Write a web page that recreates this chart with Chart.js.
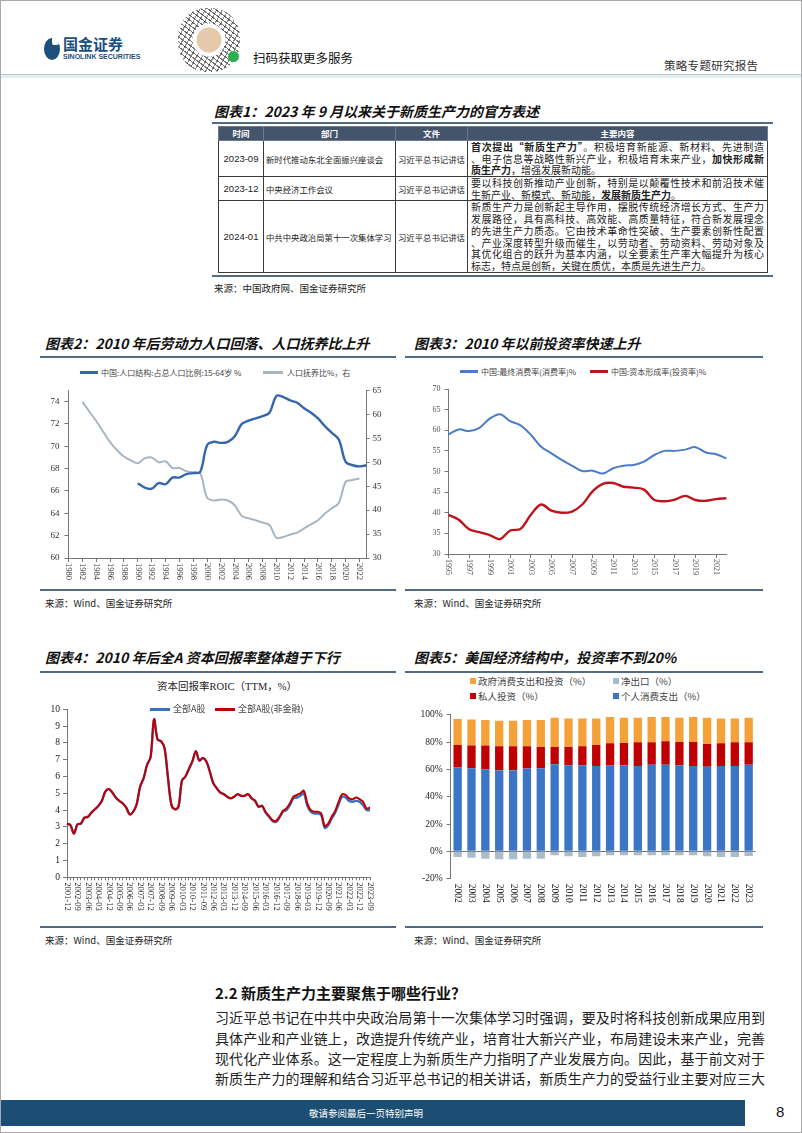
<!DOCTYPE html>
<html lang="zh-CN">
<head>
<meta charset="utf-8">
<title>策略专题研究报告</title>
<script src="https://cdn.jsdelivr.net/npm/chart.js@4.4.1/dist/chart.umd.min.js"></script>
<style>
  html, body { margin: 0; padding: 0; background: #fff; }
  body { width: 802px; height: 1133px; position: relative; overflow: hidden;
         font-family: "Noto Sans CJK SC", sans-serif; color: #222; }
  .a { position: absolute; white-space: nowrap; }
  .frame { position: absolute; left: 0; top: 0; width: 800px; height: 1131px; border: 1px solid #a8a8a8; }
  .ttl { position: absolute; white-space: nowrap; font-weight: 700; font-style: italic; font-size: 14px; line-height: 15px; color: #111; }
  .rule { position: absolute; height: 1.5px; background: #506b82; }
  .src { position: absolute; white-space: nowrap; font-size: 9.5px; line-height: 10px; color: #222; }
  canvas { position: absolute; }
  .lg { position: absolute; white-space: nowrap; font-size: 8px; line-height: 9px; color: #444; }
  .ln { position: absolute; height: 2.5px; }
  .sq { position: absolute; width: 6px; height: 6px; }
  .qr { left: 178px; top: 8px; width: 62px; height: 64px; border-radius: 46%;
        background:
          radial-gradient(circle at 50% 50%, #e6c9aa 0 12px, #fff 13px 16px, transparent 17px),
          repeating-linear-gradient(37deg, rgba(0,0,0,.55) 0 1px, transparent 1px 4px),
          repeating-linear-gradient(-61deg, rgba(0,0,0,.45) 0 1px, transparent 1px 5px); }
  table.t { position: absolute; left: 218px; top: 126px; width: 549px; border-collapse: collapse;
            table-layout: fixed; font-size: 8.4px; color: #222; }
  table.t td { border: 1px solid #3a3a3a; padding: 0 2px; vertical-align: middle; overflow: hidden; white-space: nowrap; }
  table.t td.w { white-space: normal; font-size: 10px; padding: 0 3px; }
  table.t tr.h td { background: #44546a; color: #fff; font-weight: 700; text-align: center;
                    height: 13px; line-height: 13px; font-size: 8.5px; border-color: #6d7a8c; }
  table.t td.c { text-align: center; font-family: "Liberation Sans", sans-serif; font-size: 9.5px; }
  .j { text-align: justify; text-align-last: justify; line-height: 11.7px; height: 11.7px; }
  .jl { text-align: left; line-height: 11.7px; height: 11.7px; }
  .p { position: absolute; left: 215px; width: 550px; font-size: 14px; line-height: 20.4px; height: 20.4px;
       text-align: justify; text-align-last: justify; color: #222; }
</style>
</head>
<body>
<div class="frame"></div>

<!-- 页眉 -->
<div class="a" style="left:44px;top:38px;width:16px;height:22px;border-radius:50%;background:#1c4f7c;"></div>
<div class="a" style="left:52px;top:37px;width:7px;height:8px;background:#fff;border-radius:2px;"></div>
<div class="a" style="left:63px;top:36px;font-size:15px;line-height:16px;font-weight:700;color:#1c4f7c;">国金证券</div>
<div class="a" style="left:63px;top:53px;font-size:7px;line-height:8px;font-weight:700;color:#1c4f7c;font-family:'Liberation Sans',sans-serif;">SINOLINK SECURITIES</div>
<div class="a qr"></div>
<div class="a" style="left:228px;top:51px;width:11px;height:11px;border-radius:50%;background:#2bb24c;"></div>
<div class="a" style="left:253px;top:51px;font-size:12.5px;line-height:14px;color:#111;">扫码获取更多服务</div>
<div class="a" style="left:664px;top:59px;font-size:11.5px;line-height:13px;color:#333;letter-spacing:0.3px;">策略专题研究报告</div>
<div class="a" style="left:1px;top:74px;width:800px;height:1px;background:#b8c6cf;"></div>
<div class="a" style="left:1px;top:75px;width:800px;height:3px;background:#e4eef2;"></div>

<!-- 图表1 表格 -->
<div class="ttl" style="left:214px;top:104px;">图表1：2023 年 9 月以来关于新质生产力的官方表述</div>
<div class="rule" style="left:212px;top:122px;width:561px;"></div>
<table class="t">
  <colgroup><col style="width:45px"><col style="width:132px"><col style="width:72px"><col style="width:300px"></colgroup>
  <tr class="h"><td>时间</td><td>部门</td><td>文件</td><td>主要内容</td></tr>
  <tr style="height:35px">
    <td class="c">2023-09</td><td>新时代推动东北全面振兴座谈会</td><td>习近平总书记讲话</td>
    <td class="w"><div class="j"><b>首次提出“新质生产力”</b>。积极培育新能源、新材料、先进制造</div><div class="j">、电子信息等战略性新兴产业，积极培育未来产业，<b>加快形成新</b></div><div class="jl"><b>质生产力</b>，增强发展新动能。</div></td>
  </tr>
  <tr style="height:24px">
    <td class="c">2023-12</td><td>中央经济工作会议</td><td>习近平总书记讲话</td>
    <td class="w"><div class="j">要以科技创新推动产业创新，特别是以颠覆性技术和前沿技术催</div><div class="jl">生新产业、新模式、新动能，<b>发展新质生产力</b>。</div></td>
  </tr>
  <tr style="height:71px">
    <td class="c">2024-01</td><td>中共中央政治局第十一次集体学习</td><td>习近平总书记讲话</td>
    <td class="w"><div class="j">新质生产力是创新起主导作用，摆脱传统经济增长方式、生产力</div><div class="j">发展路径，具有高科技、高效能、高质量特征，符合新发展理念</div><div class="j">的先进生产力质态。它由技术革命性突破、生产要素创新性配置</div><div class="j">、产业深度转型升级而催生，以劳动者、劳动资料、劳动对象及</div><div class="j">其优化组合的跃升为基本内涵，以全要素生产率大幅提升为核心</div><div class="jl">标志，特点是创新，关键在质优，本质是先进生产力。</div></td>
  </tr>
</table>
<div class="rule" style="left:212px;top:275px;width:561px;"></div>
<div class="src" style="left:214px;top:283px;">来源：中国政府网、国金证券研究所</div>

<!-- 图表2 -->
<div class="ttl" style="left:45px;top:336px;">图表2：2010 年后劳动力人口回落、人口抚养比上升</div>
<div class="rule" style="left:40px;top:356px;width:356px;"></div>
<div class="ln" style="left:80px;top:371px;width:18px;background:#3566ae;"></div>
<div class="lg" style="left:101px;top:368px;">中国:人口结构:占总人口比例:15-64岁 %</div>
<div class="ln" style="left:263px;top:371px;width:20px;background:#a8b6c3;"></div>
<div class="lg" style="left:287px;top:368px;">人口抚养比%，右</div>
<canvas id="c2" width="355" height="206" style="left:40px;top:380px;"></canvas>
<div class="rule" style="left:40px;top:589px;width:356px;"></div>
<div class="src" style="left:45px;top:598px;">来源：Wind、国金证券研究所</div>

<!-- 图表3 -->
<div class="ttl" style="left:414px;top:336px;">图表3：2010 年以前投资率快速上升</div>
<div class="rule" style="left:405px;top:356px;width:358px;"></div>
<div class="ln" style="left:460px;top:370px;width:18px;background:#4a7cc9;"></div>
<div class="lg" style="left:481px;top:367px;">中国:最终消费率(消费率)%</div>
<div class="ln" style="left:590px;top:370px;width:18px;background:#c0141c;"></div>
<div class="lg" style="left:611px;top:367px;">中国:资本形成率(投资率)%</div>
<canvas id="c3" width="358" height="206" style="left:405px;top:380px;"></canvas>
<div class="rule" style="left:405px;top:589px;width:358px;"></div>
<div class="src" style="left:414px;top:598px;">来源：Wind、国金证券研究所</div>

<!-- 图表4 -->
<div class="ttl" style="left:45px;top:650px;">图表4：2010 年后全A 资本回报率整体趋于下行</div>
<div class="rule" style="left:40px;top:671px;width:356px;"></div>
<div class="a" style="left:157px;top:681px;font-size:10.5px;line-height:12px;color:#222;font-family:'Liberation Serif','Noto Sans CJK SC',serif;">资本回报率ROIC（TTM，%）</div>
<canvas id="c4" width="345" height="222" style="left:40px;top:700px;"></canvas>
<div class="ln" style="left:150px;top:708px;width:20px;background:#3b6fc0;"></div>
<div class="lg" style="left:173px;top:704px;font-size:9px;line-height:10px;">全部A股</div>
<div class="ln" style="left:215px;top:708px;width:20px;background:#c00000;"></div>
<div class="lg" style="left:238px;top:704px;font-size:9px;line-height:10px;">全部A股(非金融)</div>
<div class="rule" style="left:40px;top:926px;width:356px;"></div>
<div class="src" style="left:45px;top:935px;">来源：Wind、国金证券研究所</div>

<!-- 图表5 -->
<div class="ttl" style="left:414px;top:650px;">图表5：美国经济结构中，投资率不到20%</div>
<div class="rule" style="left:405px;top:671px;width:358px;"></div>
<div class="sq" style="left:470px;top:678px;background:#f5a13a;"></div>
<div class="lg" style="left:478px;top:676px;font-size:9.5px;line-height:11px;">政府消费支出和投资（%）</div>
<div class="sq" style="left:613px;top:678px;background:#a9bccb;"></div>
<div class="lg" style="left:621px;top:676px;font-size:9.5px;line-height:11px;">净出口（%）</div>
<div class="sq" style="left:470px;top:693px;background:#c00000;"></div>
<div class="lg" style="left:478px;top:691px;font-size:9.5px;line-height:11px;">私人投资（%）</div>
<div class="sq" style="left:613px;top:693px;background:#3a76c4;"></div>
<div class="lg" style="left:621px;top:691px;font-size:9.5px;line-height:11px;">个人消费支出（%）</div>
<canvas id="c5" width="360" height="205" style="left:405px;top:705px;"></canvas>
<div class="rule" style="left:405px;top:926px;width:358px;"></div>
<div class="src" style="left:414px;top:935px;">来源：Wind、国金证券研究所</div>

<!-- 正文 -->
<div class="a" style="left:215px;top:985px;font-size:15px;line-height:16px;font-weight:700;color:#111;">2.2 新质生产力主要聚焦于哪些行业？</div>
<div class="p" style="top:1007px;">习近平总书记在中共中央政治局第十一次集体学习时强调，要及时将科技创新成果应用到</div>
<div class="p" style="top:1028px;">具体产业和产业链上，改造提升传统产业，培育壮大新兴产业，布局建设未来产业，完善</div>
<div class="p" style="top:1048px;">现代化产业体系。这一定程度上为新质生产力指明了产业发展方向。因此，基于前文对于</div>
<div class="p" style="top:1068px;">新质生产力的理解和结合习近平总书记的相关讲话，新质生产力的受益行业主要对应三大</div>

<!-- 页脚 -->
<div class="a" style="left:1px;top:1100px;width:744px;height:26px;background:#1b4e72;"></div>
<div class="a" style="left:309px;top:1108px;font-size:9.5px;line-height:10px;color:#fff;">敬请参阅最后一页特别声明</div>
<div class="a" style="left:776px;top:1104px;font-size:15px;line-height:16px;color:#111;font-family:'Liberation Sans',sans-serif;">8</div>

<script>
// 图表2：人口结构
const years2 = ['1980','1981','1982','1983','1984','1985','1986','1987','1988','1989',
                '1990','1991','1992','1993','1994','1995','1996','1997','1998','1999',
                '2000','2001','2002','2003','2004','2005','2006','2007','2008','2009',
                '2010','2011','2012','2013','2014','2015','2016','2017','2018','2019',
                '2020','2021','2022','2023'];
const workShare = [null,null,null,null,null,null,null,null,null,null,
                   66.7,66.3,66.2,66.7,66.6,67.2,67.2,67.5,67.6,67.7,
                   70.1,70.4,70.3,70.4,70.9,72.0,72.3,72.5,72.7,73.0,
                   74.5,74.4,74.1,73.9,73.4,73.0,72.5,71.8,71.2,70.6,
                   68.6,68.3,68.2,68.3];
const depRatio = [null,null,62.6,60.6,58.6,56.4,54.2,52.5,51.2,50.4,
                  49.8,50.8,51.0,50.0,50.2,48.8,48.8,48.1,47.9,47.7,
                  42.6,42.0,42.2,42.0,41.0,38.8,38.3,37.9,37.4,36.9,
                  34.2,34.4,34.9,35.3,36.2,37.0,37.9,39.3,40.4,41.5,
                  45.9,46.3,46.6,null];
const ticksL2 = [60, 62, 64, 66, 68, 70, 72, 74];
const ticksR2 = [30, 35, 40, 45, 50, 55, 60, 65];

// 图表3：消费率与投资率
const years3 = ['1995','1996','1997','1998','1999','2000','2001','2002','2003','2004',
                '2005','2006','2007','2008','2009','2010','2011','2012','2013','2014',
                '2015','2016','2017','2018','2019','2020','2021','2022'];
const consRate = [59.0,60.2,59.8,60.6,62.8,63.9,62.2,61.2,58.9,56.0,
                  54.4,52.8,51.4,50.1,50.2,49.5,50.8,51.4,51.6,52.4,
                  54.0,55.0,55.0,55.3,55.9,54.6,54.2,53.2];
const invRate = [39.5,38.3,36.0,35.3,34.6,33.6,35.7,36.1,39.5,42.0,
                 40.5,40.0,40.3,42.0,45.2,47.0,47.2,46.3,46.1,45.6,
                 43.1,42.8,43.2,44.1,43.1,42.9,43.3,43.5];
const ticks3 = [30, 35, 40, 45, 50, 55, 60, 65, 70];

// 图表4：资本回报率ROIC
const quarters4 = ['2001-12',
  '2002-03','2002-06','2002-09','2002-12','2003-03','2003-06','2003-09','2003-12',
  '2004-03','2004-06','2004-09','2004-12','2005-03','2005-06','2005-09','2005-12',
  '2006-03','2006-06','2006-09','2006-12','2007-03','2007-06','2007-09','2007-12',
  '2008-03','2008-06','2008-09','2008-12','2009-03','2009-06','2009-09','2009-12',
  '2010-03','2010-06','2010-09','2010-12','2011-03','2011-06','2011-09','2011-12',
  '2012-03','2012-06','2012-09','2012-12','2013-03','2013-06','2013-09','2013-12',
  '2014-03','2014-06','2014-09','2014-12','2015-03','2015-06','2015-09','2015-12',
  '2016-03','2016-06','2016-09','2016-12','2017-03','2017-06','2017-09','2017-12',
  '2018-03','2018-06','2018-09','2018-12','2019-03','2019-06','2019-09','2019-12',
  '2020-03','2020-06','2020-09','2020-12','2021-03','2021-06','2021-09','2021-12',
  '2022-03','2022-06','2022-09','2022-12','2023-03','2023-06','2023-09'];
const roicNonFin = [3.2,
  3.1,2.6,3.15,3.2, 3.55,3.6,3.85,4.05, 4.25,4.55,5.1,5.25, 5.05,4.75,4.55,4.4,
  4.15,3.75,3.9,4.35, 5.4,5.9,6.7,7.15, 9.4,8.2,8.1,7.7, 5.9,4.3,4.05,4.2,
  5.75,6.0,6.45,6.9, 7.5,6.95,7.1,6.9, 6.3,5.6,5.3,5.05, 4.95,4.8,4.7,4.8,
  4.95,4.85,4.85,4.95, 4.7,4.55,4.2,4.25, 3.9,3.65,3.4,3.35, 3.6,3.95,4.1,4.4,
  4.8,4.9,5.0,5.15, 4.4,4.0,3.9,3.9, 3.8,3.05,3.2,3.6, 3.95,4.5,4.95,4.9,
  4.7,4.65,4.75,4.65, 4.5,4.1,4.15,4.3];
const roicAll = [3.2,
  3.1,2.6,3.15,3.2, 3.55,3.6,3.85,4.05, 4.25,4.55,5.1,5.25, 5.05,4.75,4.55,4.4,
  4.15,3.75,3.9,4.35, 5.4,5.9,6.7,7.15, 9.4,8.2,8.1,7.7, 5.9,4.3,4.05,4.2,
  5.75,6.0,6.45,6.9, 7.5,6.95,7.1,6.9, 6.3,5.6,5.3,5.05, 4.95,4.8,4.7,4.8,
  4.95,4.85,4.85,4.95, 4.7,4.55,4.2,4.25, 3.85,3.6,3.35,3.3, 3.55,3.9,4.0,4.3,
  4.7,4.75,4.85,5.0, 4.25,3.9,3.8,3.8, 3.7,2.95,3.1,3.5, 3.85,4.35,4.8,4.75,
  4.55,4.5,4.55,4.5, 4.3,4.0,4.0,4.15];
const ticks4 = [0, 1, 2, 3, 4, 5, 6, 7, 8, 9, 10];

// 图表5：美国经济结构
const years5 = ['2002','2003','2004','2005','2006','2007','2008','2009','2010','2011','2012',
                '2013','2014','2015','2016','2017','2018','2019','2020','2021','2022','2023'];
const pce5 = [61.3,60.8,60.1,59.4,59.4,60.6,60.8,63.7,63.0,63.0,62.5,
              63.0,63.0,62.5,63.3,63.3,63.0,62.5,62.0,62.5,62.5,63.3];
const privInv5 = [16.6,16.6,17.3,17.5,17.5,16.3,15.6,12.7,13.4,13.9,15.4,
                  16.1,16.3,17.3,16.5,17.2,17.0,17.5,16.6,16.6,17.3,16.5];
const gov5 = [18.9,19.0,18.7,18.7,18.7,19.2,19.7,21.4,20.9,20.4,19.4,
              19.2,18.5,18.0,18.5,17.8,17.8,18.3,19.2,18.2,17.5,18.0];
const netExp5 = [-4.1,-4.6,-5.4,-5.8,-5.8,-5.4,-5.4,-2.9,-3.6,-4.1,-3.6,
                 -2.9,-2.9,-2.9,-2.9,-2.9,-2.9,-2.9,-3.6,-4.1,-4.1,-3.4];
const ticks5 = [-20, 0, 20, 40, 60, 80, 100];

Chart.defaults.font.family = '"Liberation Serif", "Noto Sans CJK SC", serif';
Chart.defaults.font.size = 9;
Chart.defaults.color = '#333';
Chart.defaults.animation = false;
Chart.defaults.plugins.legend.display = false;
Chart.defaults.plugins.tooltip.enabled = false;

// 横轴标签顺时针竖排（原图为自上而下）
const vertLabels = {
  id: 'vertLabels',
  afterDraw(chart, args, opts) {
    const sc = chart.scales.x;
    const ctx = chart.ctx;
    ctx.save();
    ctx.font = opts.font;
    ctx.fillStyle = opts.color;
    ctx.textAlign = 'left';
    ctx.textBaseline = 'middle';
    sc.ticks.forEach((t, i) => {
      if (t.label === null || t.label === undefined || t.label === '') return;
      const x = sc.getPixelForTick(i);
      ctx.save();
      ctx.translate(x, sc.top + opts.gap);
      ctx.rotate(Math.PI / 2);
      ctx.fillText(String(t.label), 0, 0);
      ctx.restore();
    });
    ctx.restore();
  }
};

const useTicks = arr => s => { s.ticks = arr.map(v => ({ value: v })); };
const axisGrid = { display: true, drawOnChartArea: false, tickLength: 4, color: '#777' };

// 图表2
new Chart(document.getElementById('c2'), {
  type: 'line',
  data: {
    labels: years2,
    datasets: [{
      label: '中国:人口结构:占总人口比例:15-64岁 %',
      data: workShare, yAxisID: 'y',
      borderColor: '#3566ae', borderWidth: 2.4, pointRadius: 0, tension: 0.35
    }, {
      label: '人口抚养比%，右',
      data: depRatio, yAxisID: 'y1',
      borderColor: '#a8b6c3', borderWidth: 2, pointRadius: 0, tension: 0.35
    }]
  },
  options: {
    responsive: false,
    layout: { padding: { top: 9, left: 0, right: 0, bottom: 0 } },
    plugins: { vertLabels: { font: '8.5px "Liberation Serif"', color: '#333', gap: 5 } },
    scales: {
      x: {
        offset: false,
        grid: axisGrid, border: { color: '#777' },
        ticks: { autoSkip: false, minRotation: 90, maxRotation: 90, color: 'rgba(0,0,0,0)',
                 callback: (v, i) => (i % 2 === 0 ? years2[i] : null) },
        afterFit: s => { s.height = 28; }
      },
      y: {
        position: 'left', min: 60, max: 75,
        afterBuildTicks: useTicks(ticksL2),
        grid: axisGrid, border: { color: '#777' },
        ticks: { padding: 5, font: { size: 9 } },
        afterFit: s => { s.width = 28.5; }
      },
      y1: {
        position: 'right', min: 30, max: 65,
        afterBuildTicks: useTicks(ticksR2),
        grid: { display: true, drawOnChartArea: false, tickLength: 3, color: '#777' }, border: { color: '#777' },
        ticks: { padding: 3, font: { size: 9 } },
        afterFit: s => { s.width = 28.5; }
      }
    }
  },
  plugins: [vertLabels]
});

// 图表3
new Chart(document.getElementById('c3'), {
  type: 'line',
  data: {
    labels: years3,
    datasets: [{
      label: '中国:最终消费率(消费率)%',
      data: consRate, borderColor: '#4a7cc9', borderWidth: 2, pointRadius: 0, tension: 0.35
    }, {
      label: '中国:资本形成率(投资率)%',
      data: invRate, borderColor: '#c0141c', borderWidth: 2.4, pointRadius: 0, tension: 0.35
    }]
  },
  options: {
    responsive: false,
    layout: { padding: { top: 9, left: 0, right: 36.6, bottom: 0 } },
    plugins: { vertLabels: { font: '8px "Liberation Serif"', color: '#555', gap: 5 } },
    scales: {
      x: {
        offset: false,
        grid: axisGrid, border: { color: '#777' },
        ticks: { autoSkip: false, minRotation: 90, maxRotation: 90, color: 'rgba(0,0,0,0)',
                 callback: (v, i) => (i % 2 === 0 ? years3[i] : null) },
        afterFit: s => { s.height = 32; }
      },
      y: {
        min: 30, max: 70,
        afterBuildTicks: useTicks(ticks3),
        grid: axisGrid, border: { color: '#777' },
        ticks: { padding: 4, color: '#555', font: { size: 8 } },
        afterFit: s => { s.width = 43.5; }
      }
    }
  },
  plugins: [vertLabels]
});

// 图表4
new Chart(document.getElementById('c4'), {
  type: 'line',
  data: {
    labels: quarters4,
    datasets: [{
      label: '全部A股(非金融)',
      data: roicNonFin, borderColor: '#c00000', borderWidth: 2, pointRadius: 0, tension: 0.35, order: 0
    }, {
      label: '全部A股',
      data: roicAll, borderColor: '#3b6fc0', borderWidth: 2.4, pointRadius: 0, tension: 0.35, order: 1
    }]
  },
  options: {
    responsive: false,
    layout: { padding: { top: 9.3, left: 0, right: 15, bottom: 0 } },
    plugins: { vertLabels: { font: '8.5px "Liberation Serif"', color: '#222', gap: 5 } },
    scales: {
      x: {
        offset: false,
        grid: { display: true, drawOnChartArea: false, tickLength: 3, color: '#777' }, border: { color: '#777' },
        ticks: { autoSkip: false, minRotation: 90, maxRotation: 90, color: 'rgba(0,0,0,0)',
                 callback: (v, i) => (i % 3 === 0 ? quarters4[i] : '') },
        afterFit: s => { s.height = 44.7; }
      },
      y: {
        min: 0, max: 10,
        afterBuildTicks: useTicks(ticks4),
        grid: axisGrid, border: { color: '#777' },
        ticks: { padding: 3, color: '#222', font: { size: 9.5 } },
        afterFit: s => { s.width = 27; }
      }
    }
  },
  plugins: [vertLabels]
});

// 图表5
new Chart(document.getElementById('c5'), {
  type: 'bar',
  data: {
    labels: years5,
    datasets: [
      { label: '个人消费支出（%）', data: pce5, backgroundColor: '#3a76c4' },
      { label: '私人投资（%）', data: privInv5, backgroundColor: '#c00000' },
      { label: '政府消费支出和投资（%）', data: gov5, backgroundColor: '#f5a13a' },
      { label: '净出口（%）', data: netExp5, backgroundColor: '#a9bccb' }
    ]
  },
  options: {
    responsive: false,
    layout: { padding: { top: 8.7, left: 0, right: 9.4, bottom: 0 } },
    datasets: { bar: { categoryPercentage: 1, barPercentage: 0.6 } },
    plugins: { vertLabels: { font: '9.5px "Liberation Serif"', color: '#222', gap: 5 } },
    scales: {
      x: {
        stacked: true,
        grid: { display: false }, border: { display: false },
        ticks: { autoSkip: false, minRotation: 90, maxRotation: 90, color: 'rgba(0,0,0,0)' },
        afterFit: s => { s.height = 31.3; }
      },
      y: {
        stacked: true, min: -20, max: 100,
        afterBuildTicks: useTicks(ticks5),
        grid: { display: true, drawOnChartArea: true, tickLength: 4, tickColor: '#777',
                color: c => (c.tick && c.tick.value === 0 ? '#777' : 'rgba(0,0,0,0)') },
        border: { color: '#777' },
        ticks: { padding: 4, color: '#222', font: { size: 9.5 }, callback: v => v + '%' },
        afterFit: s => { s.width = 45.7; }
      }
    }
  },
  plugins: [vertLabels]
});
</script>
</body>
</html>
